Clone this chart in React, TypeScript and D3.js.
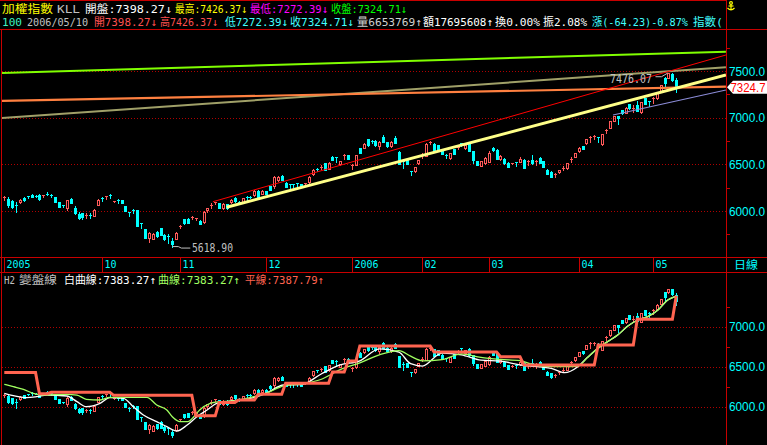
import React from "react";
import * as d3 from "d3";

// ---------- data ----------
const opens = [
  6140, 6129, 6107, 6065, 6093, 6143, 6157, 6175, 6165, 6172,
  6165, 6186, 6175, 6147, 6093, 6060, 6036, 6125, 6036, 5972,
  5979, 5950, 5960, 5950, 6065, 6140, 6155, 6175, 6100, 6115,
  6118, 6050, 5990, 6015, 6007, 5870, 5804, 5715, 5700, 5779,
  5815, 5747, 5730, 5679, 5703, 5835, 5910, 5918, 5930, 5915,
  5893, 5880, 6010, 6050, 6090, 6082, 6028, 6071, 6096, 6143,
  6100, 6100, 6145, 6152, 6171, 6214, 6185, 6214, 6264, 6267,
  6328, 6375, 6303, 6290, 6290, 6295, 6285, 6290, 6314, 6392,
  6455, 6465, 6510, 6453, 6582, 6575, 6500, 6595, 6600, 6485,
  6493, 6671, 6678, 6768, 6752, 6753, 6696, 6796, 6739, 6696,
  6778, 6632, 6540, 6546, 6428, 6428, 6510, 6595, 6589, 6730,
  6721, 6703, 6650, 6605, 6564, 6660, 6685, 6728, 6671, 6725,
  6643, 6535, 6482, 6510, 6528, 6678, 6653, 6553, 6561, 6518,
  6508, 6525, 6530, 6546, 6535, 6546, 6535, 6564, 6535, 6435,
  6421, 6395, 6418, 6455, 6460, 6555, 6578, 6639, 6696, 6724,
  6785, 6795, 6790, 6714, 6865, 6892, 6964, 7017, 7081, 7053,
  7142, 7095, 7131, 7060, 7206, 7175, 7205, 7215, 7285, 7428,
  7428, 7470, 7398.27,
];
const highs = [
  6157, 6147, 6115, 6093, 6129, 6150, 6162, 6180, 6175, 6180,
  6176, 6200, 6182, 6148, 6094, 6062, 6122, 6140, 6050, 5990,
  5983, 5975, 5975, 6020, 6125, 6150, 6165, 6180, 6112, 6125,
  6122, 6052, 5992, 6020, 6008, 5875, 5806, 5780, 5765, 5790,
  5817, 5758, 5750, 5708, 5780, 5850, 5915, 5925, 5945, 5928,
  5900, 5995, 6035, 6082, 6100, 6090, 6090, 6078, 6128, 6150,
  6105, 6140, 6160, 6158, 6225, 6220, 6220, 6218, 6268, 6370,
  6375, 6390, 6310, 6292, 6292, 6298, 6290, 6305, 6370, 6450,
  6458, 6490, 6515, 6520, 6585, 6578, 6540, 6608, 6605, 6500,
  6600, 6678, 6725, 6772, 6765, 6758, 6750, 6815, 6742, 6745,
  6800, 6640, 6555, 6550, 6430, 6475, 6545, 6625, 6730, 6745,
  6725, 6710, 6655, 6607, 6622, 6665, 6705, 6732, 6710, 6730,
  6645, 6540, 6540, 6575, 6640, 6690, 6660, 6595, 6565, 6520,
  6518, 6528, 6575, 6560, 6542, 6600, 6542, 6575, 6540, 6446,
  6425, 6410, 6440, 6482, 6515, 6575, 6625, 6685, 6700, 6770,
  6805, 6810, 6795, 6821, 6882, 6962, 7020, 7020, 7085, 7110,
  7150, 7140, 7175, 7170, 7212, 7178, 7222, 7280, 7350, 7440,
  7476.07, 7474, 7426.37,
];
const lows = [
  6118, 6047, 6030, 5990, 6082, 6110, 6143, 6150, 6155, 6122,
  6150, 6175, 6150, 6097, 6040, 6045, 6015, 6083, 5972, 5918,
  5911, 5930, 5925, 5945, 6060, 6110, 6130, 6135, 6093, 6090,
  6086, 6000, 5950, 5980, 5840, 5820, 5715, 5668, 5695, 5725,
  5740, 5690, 5655, 5618.9, 5700, 5820, 5860, 5870, 5915, 5905,
  5858, 5870, 5990, 6035, 6075, 6030, 6020, 6020, 6090, 6100,
  6075, 6095, 6120, 6140, 6165, 6150, 6180, 6180, 6225, 6250,
  6320, 6330, 6255, 6250, 6252, 6255, 6255, 6280, 6305, 6385,
  6428, 6447, 6435, 6446, 6546, 6520, 6495, 6560, 6561, 6447,
  6490, 6620, 6670, 6700, 6725, 6700, 6668, 6735, 6690, 6690,
  6730, 6500, 6465, 6500, 6390, 6420, 6505, 6572, 6585, 6715,
  6630, 6648, 6610, 6572, 6560, 6612, 6668, 6696, 6665, 6640,
  6518, 6488, 6478, 6505, 6520, 6648, 6560, 6548, 6505, 6470,
  6500, 6480, 6520, 6460, 6490, 6505, 6488, 6515, 6471, 6392,
  6360, 6368, 6410, 6440, 6455, 6520, 6575, 6635, 6665, 6720,
  6740, 6768, 6740, 6710, 6840, 6888, 6960, 6928, 7040, 7050,
  7095, 7060, 7068, 7055, 7145, 7125, 7160, 7205, 7280, 7330,
  7420, 7395, 7272.39,
];
const closes = [
  6145, 6065, 6043, 6050, 6122, 6115, 6150, 6154, 6162, 6125,
  6174, 6181, 6170, 6097, 6043, 6057, 6115, 6086, 5982, 5929,
  5940, 5955, 5955, 6015, 6122, 6135, 6160, 6171, 6105, 6108,
  6090, 6000, 5986, 6011, 5840, 5864, 5715, 5768, 5758, 5733,
  5740, 5704, 5720, 5643, 5768, 5842, 5868, 5875, 5935, 5922,
  5864, 5990, 6028, 6060, 6095, 6035, 6071, 6028, 6121, 6107,
  6078, 6135, 6140, 6148, 6214, 6150, 6214, 6185, 6228, 6364,
  6364, 6332, 6257, 6286, 6285, 6290, 6257, 6300, 6364, 6442,
  6452, 6472, 6439, 6517, 6550, 6570, 6535, 6600, 6561, 6490,
  6596, 6625, 6721, 6703, 6748, 6703, 6743, 6739, 6696, 6739,
  6732, 6500, 6535, 6500, 6425, 6471, 6543, 6600, 6721, 6735,
  6632, 6650, 6614, 6600, 6618, 6614, 6690, 6724, 6703, 6643,
  6546, 6490, 6535, 6571, 6618, 6650, 6561, 6589, 6511, 6475,
  6512, 6520, 6560, 6464, 6540, 6510, 6540, 6518, 6471, 6400,
  6368, 6400, 6435, 6460, 6510, 6560, 6617, 6678, 6667, 6767,
  6792, 6800, 6785, 6821, 6870, 6960, 7017, 6992, 7046, 7106,
  7099, 7100, 7071, 7167, 7149, 7170, 7210, 7270, 7345, 7374,
  7474, 7403, 7324.71,
];

// month axis
const monthTickIdx = [0, 25, 45, 67, 89, 107, 124, 147, 166];
const monthLabels = ["2005", "10", "11", "12", "2006", "02", "03", "04", "05"];

// price axis ticks
const topTicks = [6000, 6500, 7000, 7500];
const topMinor = [5750, 6250, 6750, 7250, 7750];
const botTicks = [6000, 6500, 7000];
const botMinor = [6250, 6750, 7250];

// trend lines in the upper panel: [candle index, value] endpoints
const trendStartIdx = [-1.1, -1.1, -1.1, 53.4, 56.9, 155.8];
const trendStartVal = [6996, 7478.6, 7178.6, 6099.6, 6039.6, 7028.6];
const trendEndIdx = [184.7, 184.7, 184.7, 184.7, 184.7, 184.7];
const trendEndVal = [7539.6, 7706.8, 7331.8, 7671.4, 7457.1, 7296.4];

// lower panel: 變盤線 step levels
const stepStarts = [0, 9, 12, 28, 49, 55, 60, 65, 72, 84, 88, 91, 110, 127, 133, 152, 162, 172];
const stepLevels = [6426, 6163, 6180, 6142, 5888, 6054, 6084, 6155, 6292, 6434, 6571, 6759, 6684, 6625, 6521, 6771, 7092, 7387.79];

// lower panel curves (sampled)
const whiteIdx = [0, 2.3, 5.7, 8.3, 10.9, 16, 18.6, 21, 24.5, 27, 30.5, 33, 35.6, 39, 41.6, 44.2, 46.8, 49.3, 51.9, 54.4, 58.7, 63.9, 67.3, 71.5, 76, 81, 86, 91, 96, 101, 104, 107, 112, 117, 122, 127, 132.2, 140, 143.4, 146.8, 149.3, 151.9, 154.4, 157, 159.6, 162.1, 164.7, 167.3, 169.8, 172];
const whiteVal = [6167, 6138, 6113, 6125, 6146, 6134, 6063, 6000, 6042, 6113, 6105, 6000, 5896, 5813, 5750, 5696, 5771, 5875, 5959, 6042, 6075, 6113, 6175, 6271, 6275, 6406, 6522, 6574, 6724, 6681, 6538, 6508, 6670, 6649, 6583, 6570, 6521, 6479, 6425, 6500, 6617, 6729, 6813, 6896, 7008, 7084, 7125, 7209, 7334, 7383.27];
const greenIdx = [0, 2.3, 4.9, 7.4, 10, 16, 18.6, 21, 24.5, 27, 30, 36.5, 39, 41.6, 43, 45, 47, 48.5, 50, 52.7, 55, 58.7, 62, 67, 71.5, 76, 81, 86, 91, 96, 101, 104, 107, 112, 117, 122, 127, 132, 135.6, 140, 144.3, 146.8, 149.3, 151.9, 154.4, 157, 159.6, 162.1, 164.7, 167.3, 169.8, 172];
const greenVal = [6280, 6250, 6217, 6167, 6146, 6155, 6146, 6092, 6084, 6117, 6117, 6117, 6021, 5959, 5875, 5813, 5813, 5875, 5959, 6042, 6063, 6071, 6104, 6167, 6259, 6285, 6340, 6464, 6548, 6649, 6702, 6631, 6574, 6589, 6660, 6616, 6591, 6575, 6521, 6500, 6500, 6508, 6617, 6729, 6813, 6896, 7008, 7084, 7125, 7209, 7334, 7383.27];

// header texts
const row1Texts = ["加權指數", "KLL", "開盤:7398.27↓", "最高:7426.37↓", "最低:7272.39↓", "收盤:7324.71↓"];
const row2Texts = ["100", "2006/05/10", "開7398.27↓", "高7426.37↓", "低7272.39↓", "收7324.71↓", "量6653769↑", "額17695608↑", "換0.00%", "振2.08%", "漲(-64.23)-0.87%", "指數("];
const legendTexts = ["H2", "變盤線", "白曲線:7383.27↑", "曲線:7383.27↑", "平線:7387.79↑"];
const highLabel = "7476.07";
const lowLabel = "5618.90";
const lastLabel = "7324.7";
const periodLabel = "日線";

// ---------- layout / style ----------
const row1X = [2, 57, 85, 175, 250, 331];
const row1W = [51, 23, 87, 72, 78, 76];
const row1C = ["#ffff00", "#c0c0c0", "#ffffff", "#ffff00", "#ff00ff", "#00ff00"];
const row2X = [2, 27, 94, 160, 225, 290, 357, 423, 495, 543, 592, 693];
const row2W = [20, 61, 63, 58, 63, 64, 65, 70, 45, 44, 96, 30];
const row2C = ["#3cf0c0", "#c0c0c0", "#ff5050", "#ff5050", "#40ffff", "#40ffff", "#d0d0d0", "#ffffff", "#ffffff", "#ffffff", "#40ffff", "#40ffff"];
const legX = [4, 19, 64, 158, 245];
const legW = [11, 38, 92, 82, 79];
const legC = ["#c0c0c0", "#c0c0c0", "#ffffff", "#a0ff60", "#ff6450"];
const trendColors = ["#a0a068", "#80ff00", "#ff8040", "#ff0000", "#ffff88", "#8c8cd8"];
const trendWidths = [2, 2, 2.2, 1, 3, 1.2];

const RED = "#ff5a5a";
const CYAN = "#00ffff";
const FRAME = "#c80000";
const GRID = "#b00000";
const FONT = "'DejaVu Sans Mono', 'Noto Sans CJK TC', monospace";
const MONO = "'DejaVu Sans Mono', 'Liberation Mono', monospace";
const AXF = "'Liberation Sans', 'DejaVu Sans', sans-serif";

export default function App() {
  const n = closes.length;
  const x = d3.scaleLinear().domain([0, n - 1]).range([4.3, 676.3]);
  const yTop = d3.scaleLinear().domain([6000, 7500]).range([211, 71]);
  const yBot = d3.scaleLinear().domain([6000, 7000]).range([406.7, 326.7]);

  const renderCandles = (ys: (v: number) => number, pre: string) =>
    closes.map((c, i) => {
      const o = opens[i], h = highs[i], l = lows[i];
      const cx = Math.round(x(i));
      const up = c >= o;
      const color = up ? RED : CYAN;
      const yo = ys(o), yc = ys(c);
      const top = Math.round(Math.min(yo, yc));
      const bot = Math.round(Math.max(yo, yc));
      const yh = Math.round(ys(h));
      const yl = Math.round(ys(l));
      const wx = cx + 0.5;
      if (bot - top <= 1) {
        return (
          <g key={pre + i}>
            <line x1={wx} x2={wx} y1={yh} y2={yl + 1} stroke={color} />
            <line x1={cx - 1} x2={cx + 2} y1={top + 0.5} y2={top + 0.5} stroke={color} />
          </g>
        );
      }
      if (up) {
        return (
          <g key={pre + i}>
            {yh < top && <line x1={wx} x2={wx} y1={yh} y2={top} stroke={color} />}
            {yl > bot && <line x1={wx} x2={wx} y1={bot + 1} y2={yl + 1} stroke={color} />}
            <rect x={cx - 0.5} y={top + 0.5} width={2} height={bot - top} fill="none" stroke={color} />
          </g>
        );
      }
      return (
        <g key={pre + i}>
          <line x1={wx} x2={wx} y1={yh} y2={yl + 1} stroke={color} />
          <rect x={cx - 1} y={top} width={3} height={bot - top + 1} fill={color} />
        </g>
      );
    });

  const stepSeries = closes.map((_, i) => {
    let v = stepLevels[0];
    stepStarts.forEach((s, k) => {
      if (i >= s) v = stepLevels[k];
    });
    return v;
  });
  const stepPath = d3
    .line<number>()
    .x((_, i) => x(i))
    .y((d) => yBot(d))(stepSeries) as string;

  const curve = (idx: number[], vals: number[]) =>
    d3
      .line<number>()
      .x((_, k) => x(idx[k]))
      .y((d) => yBot(d))
      .curve(d3.curveMonotoneX)(vals) as string;

  const lastY = yTop(closes[n - 1]);
  const hiI = highs.indexOf(d3.max(highs) as number);
  const loI = lows.indexOf(d3.min(lows) as number);
  const hiX = x(hiI), hiY = yTop(highs[hiI]);
  const loX = x(loI), loY = yTop(lows[loI]);

  return (
    <svg
      width={767}
      height={445}
      style={{ position: "absolute", left: 0, top: 0, background: "#000", display: "block" }}
    >
      <defs>
        <clipPath id="clipTop">
          <rect x={2} y={30} width={724} height={227} />
        </clipPath>
        <clipPath id="clipBot">
          <rect x={2} y={273} width={724} height={172} />
        </clipPath>
      </defs>
      <rect x={0} y={0} width={767} height={445} fill="#000" />

      {/* header */}
      {row1Texts.map((t, k) => (
        <text key={"r1" + k} x={row1X[k]} y={12.5} fontSize={11} fontFamily={FONT} fill={row1C[k]}
          textLength={row1W[k]} lengthAdjust="spacingAndGlyphs">{t}</text>
      ))}
      {row2Texts.map((t, k) => (
        <text key={"r2" + k} x={row2X[k]} y={26} fontSize={11} fontFamily={FONT} fill={row2C[k]}
          textLength={row2W[k]} lengthAdjust="spacingAndGlyphs">{t}</text>
      ))}
      {/* yellow icon top right */}
      <g stroke="#ffff00" fill="none" strokeWidth={1.2}>
        <circle cx={731} cy={3} r={1.4} />
        <line x1={731} x2={731} y1={4.5} y2={10} />
        <line x1={728.5} x2={733.5} y1={6} y2={6} />
        <path d="M727.5,8 Q731,11.5 734.5,8" />
      </g>

      {/* gridlines */}
      {topTicks.map((v) => (
        <line key={"gt" + v} x1={2} x2={726} y1={Math.round(yTop(v)) + 0.5} y2={Math.round(yTop(v)) + 0.5}
          stroke={GRID} strokeDasharray="1,2" />
      ))}
      {botTicks.map((v) => (
        <line key={"gb" + v} x1={2} x2={726} y1={Math.round(yBot(v)) + 0.5} y2={Math.round(yBot(v)) + 0.5}
          stroke={GRID} strokeDasharray="1,2" />
      ))}

      {/* upper panel */}
      <g clipPath="url(#clipTop)">
        {renderCandles(yTop, "t")}
        {trendStartIdx.map((s, k) => (
          <line key={"tr" + k} x1={x(s)} y1={yTop(trendStartVal[k])} x2={x(trendEndIdx[k])} y2={yTop(trendEndVal[k])}
            stroke={trendColors[k]} strokeWidth={trendWidths[k]} />
        ))}
        {/* high / low annotations */}
        <polyline points={`${hiX - 1},${hiY} ${hiX - 7},${hiY + 3.5} ${hiX - 13},${hiY + 3.5}`} fill="none" stroke="#c0c0c0" />
        <text x={610} y={83} fontSize={12} fontFamily={MONO} fill="#c0c0c0" textLength={42} lengthAdjust="spacingAndGlyphs">{highLabel}</text>
        <polyline points={`${loX},${loY} ${loX + 6},${loY} ${loX + 9},${loY + 1.5} ${loX + 18},${loY + 1.5}`} fill="none" stroke="#c0c0c0" />
        <text x={192} y={252} fontSize={12} fontFamily={MONO} fill="#c0c0c0" textLength={41} lengthAdjust="spacingAndGlyphs">{lowLabel}</text>
      </g>

      {/* lower panel */}
      <g clipPath="url(#clipBot)">
        {renderCandles(yBot, "b")}
        <path d={curve(whiteIdx, whiteVal)} fill="none" stroke="#ffffff" strokeWidth={1.3} />
        <path d={curve(greenIdx, greenVal)} fill="none" stroke="#a0ff60" strokeWidth={1.3} />
        <path d={stepPath} fill="none" stroke="#ff6450" strokeWidth={3} />
      </g>
      {legendTexts.map((t, k) => (
        <text key={"lg" + k} x={legX[k]} y={284} fontSize={11} fontFamily={FONT} fill={legC[k]}
          textLength={legW[k]} lengthAdjust="spacingAndGlyphs">{t}</text>
      ))}

      {/* frames */}
      <line x1={0} x2={726} y1={0.5} y2={0.5} stroke={FRAME} />
      <line x1={0} x2={767} y1={29.5} y2={29.5} stroke={FRAME} />
      <line x1={0} x2={767} y1={257.5} y2={257.5} stroke={FRAME} />
      <line x1={0} x2={767} y1={272.5} y2={272.5} stroke={FRAME} />
      <line x1={726.5} x2={726.5} y1={0} y2={445} stroke={FRAME} />
      <line x1={1.5} x2={1.5} y1={30} y2={445} stroke={FRAME} />

      {/* month axis */}
      {monthTickIdx.map((ti, k) => {
        const tx = Math.round(x(ti)) + 0.5;
        return (
          <g key={"mt" + k}>
            <line x1={tx} x2={tx} y1={258} y2={272} stroke={FRAME} />
            <text x={tx + 2} y={268} fontSize={11} fontFamily={MONO} fill={CYAN}
              textLength={monthLabels[k].length * 6} lengthAdjust="spacingAndGlyphs">{monthLabels[k]}</text>
          </g>
        );
      })}
      <text x={734} y={268.5} fontSize={11} fontFamily={FONT} fill={CYAN} textLength={24} lengthAdjust="spacingAndGlyphs">{periodLabel}</text>

      {/* right axes */}
      {topTicks.map((v) => (
        <text key={"lt" + v} x={729} y={yTop(v) + 4.5} fontSize={12.5} fontFamily={AXF} fill={CYAN}
          textLength={36} lengthAdjust="spacingAndGlyphs">{v.toFixed(1)}</text>
      ))}
      {topMinor.map((v) => (
        <line key={"mtk" + v} x1={727} x2={730} y1={Math.round(yTop(v)) + 0.5} y2={Math.round(yTop(v)) + 0.5} stroke={FRAME} />
      ))}
      {botTicks.map((v) => (
        <text key={"lb" + v} x={729} y={yBot(v) + 4.5} fontSize={12.5} fontFamily={AXF} fill={CYAN}
          textLength={36} lengthAdjust="spacingAndGlyphs">{v.toFixed(1)}</text>
      ))}
      {botMinor.map((v) => (
        <line key={"mbk" + v} x1={727} x2={730} y1={Math.round(yBot(v)) + 0.5} y2={Math.round(yBot(v)) + 0.5} stroke={FRAME} />
      ))}

      {/* last price tag */}
      <polygon
        points={`727,${lastY} 733,${lastY - 6.5} 767,${lastY - 6.5} 767,${lastY + 6.5} 733,${lastY + 6.5}`}
        fill="#ffffff"
      />
      <text x={730.5} y={lastY + 4.5} fontSize={12} fontFamily={AXF} fill="#ff0000" textLength={35} lengthAdjust="spacingAndGlyphs">{lastLabel}</text>
    </svg>
  );
}
